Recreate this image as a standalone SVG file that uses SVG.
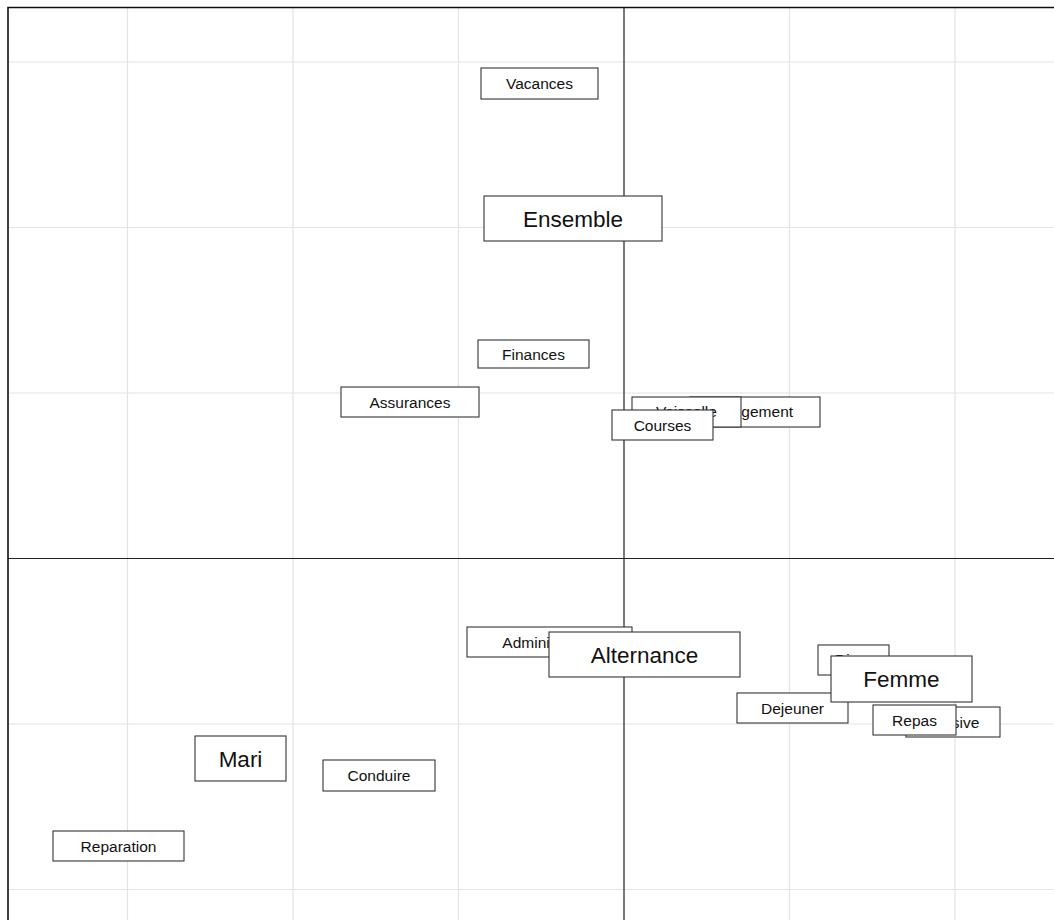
<svg xmlns="http://www.w3.org/2000/svg" width="1054" height="920" viewBox="0 0 1054 920">
<style>
.grid{stroke:#e3e3e3;stroke-width:1.2;fill:none}
.axis{stroke:#222;stroke-width:1.2;fill:none}
.frame{stroke:#111;stroke-width:1.6;fill:none}
.box{fill:#fff;stroke:#333;stroke-width:1.1}
.s{font-family:"Liberation Sans",Arial,sans-serif;font-size:15.5px;fill:#111;text-anchor:middle}
.b{font-family:"Liberation Sans",Arial,sans-serif;font-size:22.5px;fill:#111;text-anchor:middle}
</style>
<rect width="1054" height="920" fill="#fff"/>
<g id="grid">
<path class="grid" d="M127.5 8V920M293 8V920M458.5 8V920M789.5 8V920M955 8V920M8 62H1054M8 227.5H1054M8 393H1054M8 724H1054M8 889.5H1054"/>
</g>
<g id="axes">
<path class="axis" d="M624 8V920M8 558.5H1054"/>
<path class="frame" d="M8 920V7.5H1054"/>
</g>
<g id="connectors"></g>
<g id="Vacances"><rect class="box" x="481" y="68" width="117" height="31"/><text class="s" x="539.5" y="89">Vacances</text></g>
<g id="Ensemble"><rect class="box" x="484" y="196" width="178" height="45"/><text class="b" x="573" y="226.5">Ensemble</text></g>
<g id="Finances"><rect class="box" x="478" y="340" width="111" height="28"/><text class="s" x="533.5" y="359.5">Finances</text></g>
<g id="Assurances"><rect class="box" x="341" y="387" width="138" height="30"/><text class="s" x="410" y="407.5">Assurances</text></g>
<g id="Rangement"><rect class="box" x="690" y="397" width="130" height="30"/><text class="s" x="753" y="417">Rangement</text></g>
<g id="Vaisselle"><rect class="box" x="632" y="397" width="109" height="30"/><text class="s" x="686.5" y="417">Vaisselle</text></g>
<g id="Courses"><rect class="box" x="612" y="410" width="101" height="30"/><text class="s" x="662.5" y="430.5">Courses</text></g>
<g id="Administratif"><rect class="box" x="467" y="627" width="165" height="30"/><text class="s" x="545" y="647.5">Administratif</text></g>
<g id="Alternance"><rect class="box" x="549" y="632" width="191" height="45"/><text class="b" x="644.5" y="662.5">Alternance</text></g>
<g id="Diner"><rect class="box" x="818" y="645" width="71" height="30"/><text class="s" x="853.5" y="665">Diner</text></g>
<g id="Dejeuner"><rect class="box" x="737" y="693" width="111" height="30"/><text class="s" x="792.5" y="713.5">Dejeuner</text></g>
<g id="Femme"><rect class="box" x="831" y="656" width="141" height="46"/><text class="b" x="901.5" y="687">Femme</text></g>
<g id="Lessive"><rect class="box" x="906" y="707" width="94" height="30"/><text class="s" x="953" y="727.5">Lessive</text></g>
<g id="Repas"><rect class="box" x="873" y="705" width="83" height="30"/><text class="s" x="914.5" y="725.5">Repas</text></g>
<g id="Mari"><rect class="box" x="195" y="736" width="91" height="45"/><text class="b" x="240.5" y="766.5">Mari</text></g>
<g id="Conduire"><rect class="box" x="323" y="760" width="112" height="31"/><text class="s" x="379" y="781">Conduire</text></g>
<g id="Reparation"><rect class="box" x="53" y="831" width="131" height="30"/><text class="s" x="118.5" y="851.5">Reparation</text></g>
</svg>
